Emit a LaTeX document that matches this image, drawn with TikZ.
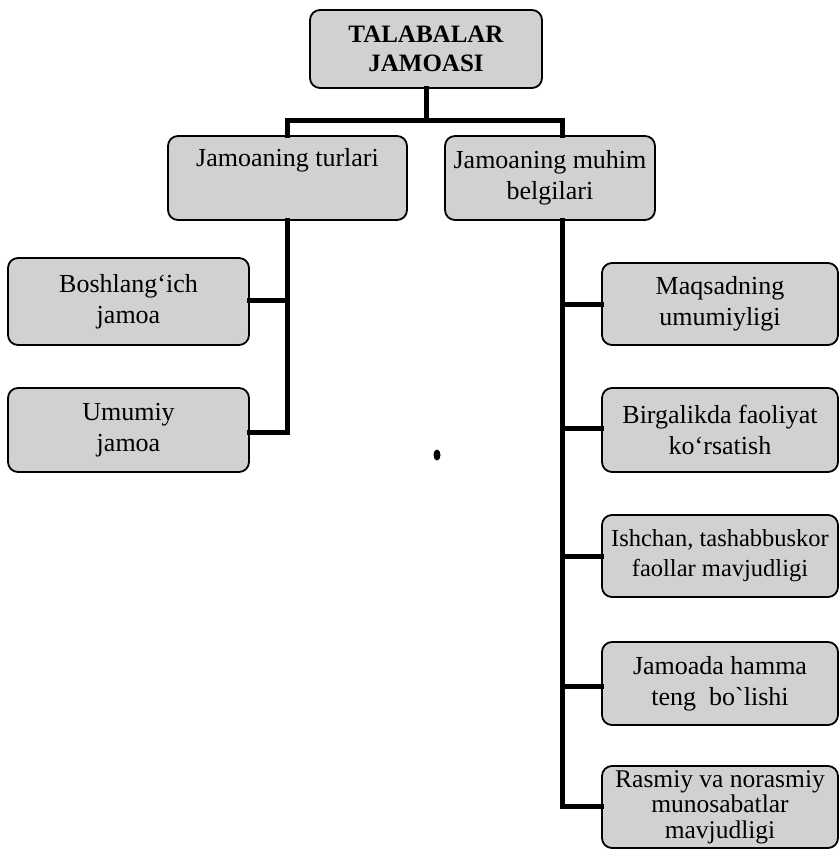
\documentclass[tikz,border=0pt]{standalone}
\usepackage{fontspec}
\setmainfont{Liberation Serif}
\begin{document}
\begin{tikzpicture}[x=1pt,y=-1pt,
  box/.style={draw=black, line width=1.8pt, rounded corners=10pt, fill=gray!36,
    align=center, inner sep=0pt, font=\fontsize{26}{31}\selectfont},
  conn/.style={line width=5pt, line join=miter, line cap=rect}]
\useasboundingbox (0,0) rectangle (840,849);
% nodes
\node[box, minimum width=232pt, minimum height=78pt, font=\fontsize{25}{29}\selectfont\bfseries] (top) at (426,49) {TALABALAR\\JAMOASI};
\node[box, minimum width=239pt, minimum height=84pt] (turlari) at (287.5,178) {Jamoaning turlari\\\strut};
\node[box, minimum width=210pt, minimum height=84pt] (muhim) at (550,178) {Jamoaning muhim\\belgilari};
\node[box, minimum width=241pt, minimum height=87pt] (bosh) at (128.5,301.5) {Boshlang‘ich\\jamoa};
\node[box, minimum width=241pt, minimum height=84pt] (umumiy) at (128.5,430) {Umumiy\\jamoa};
\node[box, minimum width=236pt, minimum height=82pt] (maqsad) at (720,304) {Maqsadning\\umumiyligi};
\node[box, minimum width=236pt, minimum height=84pt] (birga) at (720,430) {Birgalikda faoliyat\\ko‘rsatish};
\node[box, minimum width=236pt, minimum height=82pt, font=\fontsize{24.5}{30}\selectfont] (ishchan) at (720,556) {Ishchan, tashabbuskor\\faollar mavjudligi};
\node[box, minimum width=236pt, minimum height=83pt] (jamoada) at (720,683.5) {Jamoada hamma\\teng~ bo\textasciigrave lishi};
\node[box, minimum width=236pt, minimum height=82pt, font=\fontsize{25.5}{25.5}\selectfont] (rasmiy) at (720,807) {Rasmiy va norasmiy\\munosabatlar\\mavjudligi};
% junctions
\coordinate (bar) at (426,120);
\coordinate (jL) at (287,120);
\coordinate (jR) at (562,120);
% connectors
\draw[conn] (top.south) -- (bar);
\draw[conn] (jL) -- (jR);
\draw[conn] (jL) -- (jL |- turlari.north);
\draw[conn] (jR) -- (jR |- muhim.north);
\draw[conn] (jL |- turlari.south) -- ([yshift=-2pt]jL |- umumiy.east) -- ([yshift=-2pt]umumiy.east);
\draw[conn] ([yshift=1.5pt]bosh.east) -- ([yshift=1.5pt]bosh.east -| jL);
\draw[conn] (jR |- muhim.south) -- ([yshift=1pt]jR |- rasmiy.west) -- ([yshift=1pt]rasmiy.west);
\draw[conn] (maqsad.west) -- (maqsad.west -| jR);
\draw[conn] ([yshift=2pt]birga.west) -- ([yshift=2pt]birga.west -| jR);
\draw[conn] (ishchan.west) -- (ishchan.west -| jR);
\draw[conn] ([yshift=-3pt]jamoada.west) -- ([yshift=-3pt]jamoada.west -| jR);
% stray mark
\fill (437,455) ellipse (3.5pt and 5.5pt);
\end{tikzpicture}
\end{document}
